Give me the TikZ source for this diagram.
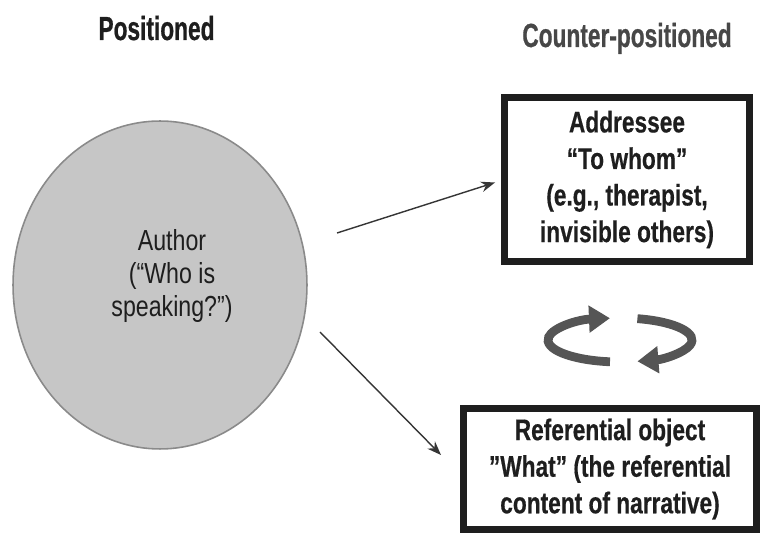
\documentclass[tikz,border=0pt]{standalone}
\usepackage{fontspec}
\usepackage{tikz}
\usetikzlibrary{calc}
\usetikzlibrary{positioning}
\usetikzlibrary{arrows.meta}
\usetikzlibrary{shapes.geometric}

\newfontfamily\headfont[FakeStretch=0.68,FakeBold=0.6]{Liberation Sans}
\newfontfamily\boxfont[FakeStretch=0.76,FakeBold=0.5]{Liberation Sans}
\newfontfamily\circfont[FakeStretch=0.8]{Liberation Sans}

\definecolor{circfill}{HTML}{C6C6C6}
\definecolor{circedge}{HTML}{8A8A8A}
\definecolor{swirl}{HTML}{555555}
\definecolor{darktxt}{HTML}{1E1E1E}

\tikzset{
  headtxt/.style={inner sep=0pt,anchor=base,font=\headfont\bfseries\fontsize{19}{23}\selectfont},
  posbox/.style={draw=darktxt,line width=4pt,rectangle,inner sep=0pt,align=center,
    text=darktxt,font=\boxfont\bfseries\fontsize{17}{20.8}\selectfont},
  thinarr/.style={-{Stealth[length=8pt,width=6pt]},line width=0.8pt,draw=darktxt!90},
  swirlarr/.style={-{Triangle[length=0.42cm,width=0.52cm]},line width=5pt,draw=swirl,color=swirl}
}

\begin{document}
\begin{tikzpicture}[x=0.02cm,y=-0.02cm]
      \useasboundingbox (0,0) rectangle (761,536);

      \node[headtxt,text=darktxt] (poshead) at (156.5,40) {Positioned};
      \node[headtxt,text=black!72] (counterhead) at (627,47) {Counter-positioned};

      \node[ellipse,draw=circedge,line width=0.9pt,fill=circfill,
        minimum width=5.88cm,minimum height=6.56cm,inner sep=0pt] (author) at (160,285) {};
      \node[align=center,text=darktxt,inner sep=0pt,
        font=\circfont\fontsize{16.5}{19}\selectfont] (authortxt) at (172,276)
        {Author\\(“Who is\\speaking?”)};

      \node[posbox,minimum width=4.9cm,minimum height=3.28cm] (addr) at (627,179.5)
        {Addressee\\“To whom”\\(e.g., therapist,\\invisible others)};
      \node[posbox,minimum width=5.86cm,minimum height=2.42cm] (refobj) at (610,469)
        {Referential object\\”What” (the referential\\content of narrative)};

      \coordinate (upstart) at (337,233);
      \coordinate (lowstart) at (320,332);
      \draw[thinarr] (upstart) -- ([shift={(-6,3)}]addr.west);
      \draw[thinarr] (lowstart) -- ([shift={(-19,-14)}]refobj.west);

      \draw[swirlarr] (620,340) ++(98:72 and 22) arc[start angle=98,end angle=262,x radius=72,y radius=22];
      \draw[swirlarr] (620,340) ++(284:72 and 22) arc[start angle=284,end angle=436,x radius=72,y radius=22];
    \end{tikzpicture}
\end{document}
